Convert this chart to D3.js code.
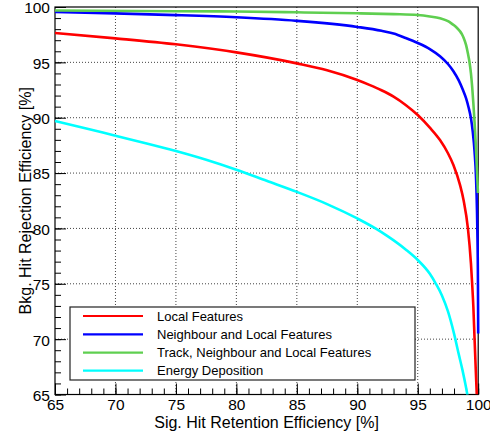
<!DOCTYPE html>
<html>
<head>
<meta charset="utf-8">
<script src="https://cdn.jsdelivr.net/npm/d3@7"></script>
<style>
  html, body { margin: 0; padding: 0; background: #fff; }
  svg { display: block; }
  text { font-family: "Liberation Sans", Arial, Helvetica, sans-serif; fill: #000; }
</style>
</head>
<body>
<svg id="chart" width="490" height="438"></svg>
<script>
// ---- data ----
const seriesNames = [
  "Local Features",
  "Neighbour and Local Features",
  "Track, Neighbour and Local Features",
  "Energy Deposition"
];
const seriesColors = ["#ff0000", "#0000ff", "#5fcf50", "#00ffff"];

// Sig. hit retention efficiency [%] (x) and Bkg. hit rejection efficiency [%] (y)
const localX = [65, 70, 75, 80, 85, 87.5, 90, 91, 92, 93, 94, 95, 96, 96.84, 97.5, 97.95, 98.5, 98.8, 99.15, 99.4, 99.5, 99.6, 99.7, 99.8, 99.88];
const localY = [97.65, 97.17, 96.63, 95.9, 94.91, 94.29, 93.41, 92.97, 92.48, 91.9, 91.15, 90.24, 89.1, 87.98, 86.79, 85.73, 83.91, 82.5, 80.0, 76.85, 75.0, 72.9, 70.0, 67.2, 65.0];

const neighX = [65, 70, 75, 80, 85, 90, 92, 93, 94, 95, 96, 96.84, 97.5, 97.95, 98.4, 98.74, 99.0, 99.2, 99.4, 99.55, 99.7, 99.82, 99.9, 99.93, 99.98, 100];
const neighY = [99.55, 99.42, 99.27, 99.07, 98.75, 98.2, 97.85, 97.6, 97.2, 96.75, 96.2, 95.55, 94.85, 94.2, 93.35, 92.5, 91.75, 90.95, 89.95, 88.74, 86.94, 84.6, 81.6, 79.8, 75.0, 70.5];

const trackX = [65, 75, 80, 85, 90, 93, 95, 96, 96.84, 97.5, 97.75, 98.0, 98.25, 98.5, 98.65, 98.8, 99.0, 99.15, 99.27, 99.4, 99.5, 99.6, 99.7, 99.78, 99.86, 99.93, 99.98];
const trackY = [99.68, 99.62, 99.6, 99.52, 99.43, 99.36, 99.28, 99.15, 98.98, 98.72, 98.55, 98.35, 98.1, 97.8, 97.55, 97.2, 96.55, 95.8, 95.1, 94.0, 92.8, 91.3, 89.6, 88.0, 86.2, 84.5, 83.2];

const energyX = [65, 67.5, 70, 72.5, 75, 77.5, 80, 82.5, 85, 87.5, 90, 91.5, 92.5, 94, 95, 96, 96.5, 97, 97.5, 98.0, 98.4, 98.7, 99.0, 99.2];
const energyY = [89.7, 89.05, 88.37, 87.7, 86.99, 86.2, 85.3, 84.3, 83.3, 82.2, 80.9, 80.0, 79.3, 78.1, 77.15, 75.9, 75.0, 73.95, 72.5, 70.5, 68.6, 67.2, 65.6, 64.4];

const xMajorTicks = [65, 70, 75, 80, 85, 90, 95, 100];
const yMajorTicks = [65, 70, 75, 80, 85, 90, 95, 100];
const xTitle = "Sig. Hit Retention Efficiency [%]";
const yTitle = "Bkg. Hit Rejection Efficiency [%]";

// ---- layout ----
const L = 55, R = 478.2, T = 7, B = 394.5;
const svg = d3.select("#chart");

const x = d3.scaleLinear().domain([65, 100]).range([L, R]);
const y = d3.scaleLinear().domain([65, 100]).range([B, T]);

const series = [
  { name: seriesNames[0], color: seriesColors[0], xs: localX, ys: localY },
  { name: seriesNames[1], color: seriesColors[1], xs: neighX, ys: neighY },
  { name: seriesNames[2], color: seriesColors[2], xs: trackX, ys: trackY },
  { name: seriesNames[3], color: seriesColors[3], xs: energyX, ys: energyY }
];

// grid
const grid = svg.append("g").attr("class", "grid");
grid.selectAll("line.gx").data(xMajorTicks.filter(d => d > 65 && d < 100)).join("line")
  .attr("x1", d => x(d)).attr("x2", d => x(d)).attr("y1", T).attr("y2", B)
  .attr("stroke", "#444").attr("stroke-width", 1).attr("stroke-dasharray", "1,2");
grid.selectAll("line.gy").data(yMajorTicks.filter(d => d > 65 && d < 100)).join("line")
  .attr("y1", d => y(d)).attr("y2", d => y(d)).attr("x1", L).attr("x2", R)
  .attr("stroke", "#444").attr("stroke-width", 1).attr("stroke-dasharray", "1,2");

// axes (ticks pointing inward)
const fmt = d3.format("d");
const xMinor = svg.append("g").attr("transform", `translate(0,${B})`)
  .call(d3.axisBottom(x).tickValues(d3.range(65, 101, 1)).tickSize(-6).tickFormat(""));
const xMajor = svg.append("g").attr("transform", `translate(0,${B})`)
  .call(d3.axisBottom(x).tickValues(xMajorTicks).tickSize(-11).tickPadding(4).tickFormat(fmt));
const yMinor = svg.append("g").attr("transform", `translate(${L},0)`)
  .call(d3.axisLeft(y).tickValues(d3.range(65, 101, 1)).tickSize(-6).tickFormat(""));
const yMajor = svg.append("g").attr("transform", `translate(${L},0)`)
  .call(d3.axisLeft(y).tickValues(yMajorTicks).tickSize(-11).tickPadding(4).tickFormat(fmt));

[xMinor, xMajor, yMinor, yMajor].forEach(g => {
  g.select(".domain").remove();
  g.selectAll(".tick line").attr("stroke", "#000").attr("stroke-width", 1);
});
xMajor.selectAll(".tick text").attr("font-size", 15.5).attr("font-family", "Liberation Sans, Arial, sans-serif").attr("dy", "0.72em").attr("y", 4);
yMajor.selectAll(".tick text").attr("font-size", 15.5).attr("font-family", "Liberation Sans, Arial, sans-serif").attr("x", -5).attr("dy", "0.38em");

// frame
svg.append("rect").attr("x", L).attr("y", T).attr("width", R - L).attr("height", B - T)
  .attr("fill", "none").attr("stroke", "#000").attr("stroke-width", 1.2);

// curves
svg.append("clipPath").attr("id", "clip").append("rect")
  .attr("x", L - 2).attr("y", T).attr("width", R - L + 4).attr("height", B - T);

const line = d3.line().x(d => x(d[0])).y(d => y(d[1])).curve(d3.curveMonotoneX);
svg.append("g").attr("clip-path", "url(#clip)")
  .selectAll("path").data(series).join("path")
  .attr("d", s => line(s.xs.map((v, i) => [v, s.ys[i]])))
  .attr("fill", "none").attr("stroke", s => s.color).attr("stroke-width", 2.6)
  .attr("stroke-linejoin", "round");

// axis titles
svg.append("text").attr("x", (L + R) / 2).attr("y", 428).attr("text-anchor", "middle")
  .attr("font-size", 16).text(xTitle);
svg.append("text").attr("transform", `translate(31,${(T + B) / 2}) rotate(-90)`)
  .attr("text-anchor", "middle").attr("font-size", 16).text(yTitle);

// legend
const lg = svg.append("g");
lg.append("rect").attr("x", 70).attr("y", 307).attr("width", 345).attr("height", 73)
  .attr("fill", "#fff").attr("stroke", "#222").attr("stroke-width", 1.2);
const rowY = [316, 334.3, 352.6, 370.7];
const items = lg.selectAll("g.item").data(series).join("g").attr("class", "item");
items.append("line").attr("x1", 83).attr("x2", 143)
  .attr("y1", (d, i) => rowY[i]).attr("y2", (d, i) => rowY[i])
  .attr("stroke", d => d.color).attr("stroke-width", 2.2);
items.append("text").attr("x", 157).attr("y", (d, i) => rowY[i]).attr("dy", "0.36em")
  .attr("font-size", 13).text(d => d.name);
</script>
</body>
</html>
